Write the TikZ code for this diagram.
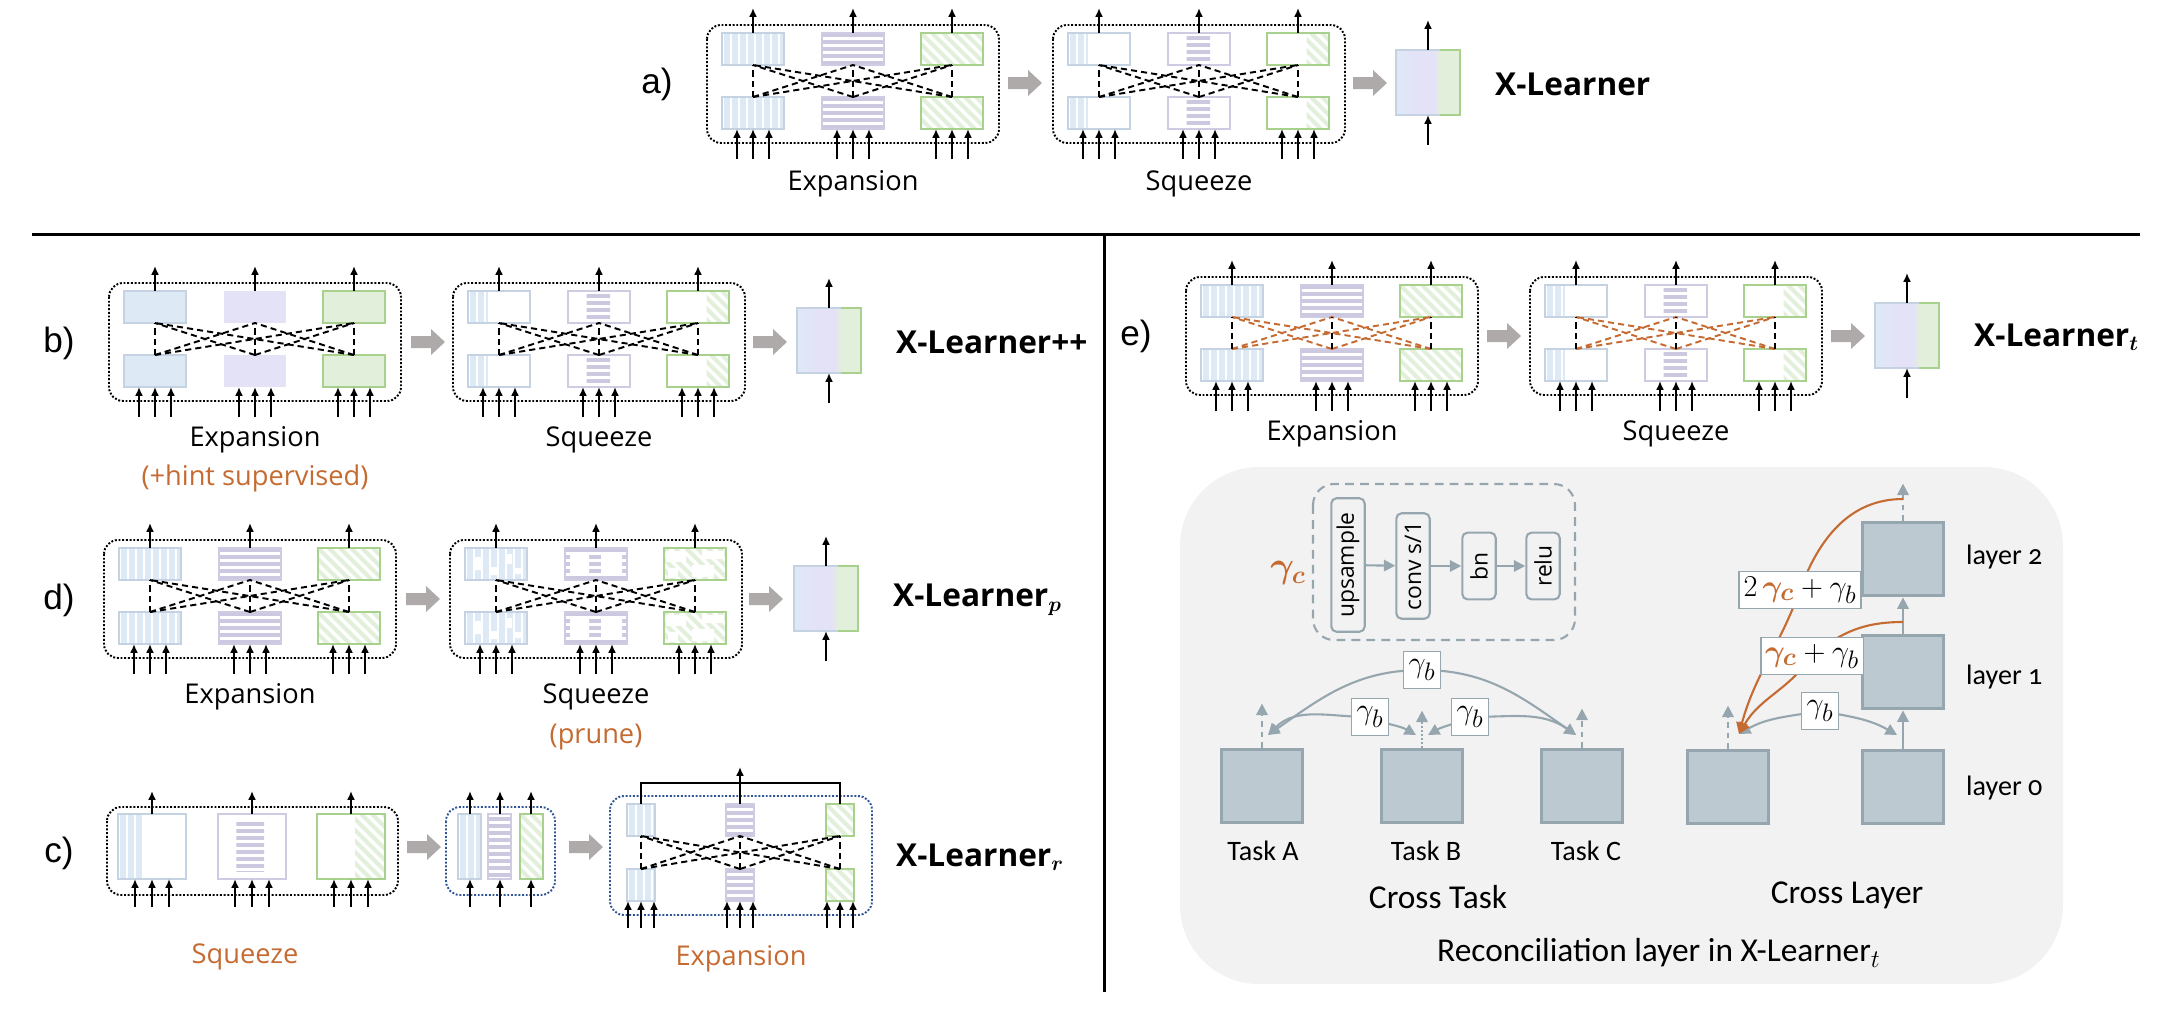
\documentclass[tikz,border=0pt]{standalone}
\usepackage{amsmath,bm}
\usepackage{fontspec}
\newfontfamily\segoe{Open Sans}
\newfontfamily\calib{Carlito}[Numbers=OldStyle]
\newfontfamily\arialf{Liberation Sans}
\usetikzlibrary{arrows.meta}
\definecolor{blueS}{RGB}{221,234,246}
\definecolor{blueE}{RGB}{196,210,226}
\definecolor{blueF}{RGB}{222,233,246}
\definecolor{purpS}{RGB}{203,200,224}
\definecolor{purpE}{RGB}{206,203,226}
\definecolor{purpF}{RGB}{228,226,247}
\definecolor{greenS}{RGB}{226,239,218}
\definecolor{greenE}{RGB}{169,209,142}
\definecolor{greenF}{RGB}{226,239,218}
\definecolor{grayA}{RGB}{174,170,170}
\definecolor{rust}{RGB}{197,107,50}
\definecolor{dotblue}{RGB}{47,85,151}
\definecolor{recbg}{RGB}{242,242,242}
\definecolor{recE}{RGB}{150,166,175}
\definecolor{recF}{RGB}{189,201,209}

% striped boxes: x, y, width, height, ...
\newcommand{\boxBlue}[5]{\begin{scope}[shift={(#1,#2)}]
\fill[white] (0,0) rectangle (#3,#4);
\begin{scope}\clip (0,0) rectangle ({#3*#5},#4);
\foreach \s in {0,8,...,64} \fill[blueS] (\s+1.6,0) rectangle (\s+7.6,#4);
\end{scope}
\draw[blueE,line width=1.1pt] (0,0) rectangle (#3,#4);
\end{scope}}
\newcommand{\boxPurple}[7]{\begin{scope}[shift={(#1,#2)}]
\fill[white] (0,0) rectangle (#3,#4);
\begin{scope}\clip ({#3*#5},#7) rectangle ({#3*#6},#4-#7);
\foreach \t in {0,7,...,70} \fill[purpS] (0,\t+#7) rectangle (#3,\t+#7+4);
\end{scope}
\draw[purpE,line width=1.1pt] (0,0) rectangle (#3,#4);
\end{scope}}
\newcommand{\boxGreen}[5]{\begin{scope}[shift={(#1,#2)}]
\fill[white] (0,0) rectangle (#3,#4);
\begin{scope}\clip ({#3*#5},0) rectangle (#3,#4);
\foreach \s in {-77,-66,...,77} \draw[greenS,line width=2.4pt] (\s,0) -- (\s+#4,#4);
\end{scope}
\draw[greenE,line width=1.1pt] (0,0) rectangle (#3,#4);
\end{scope}}

% kinds of blocks
\newcommand{\kindE}[3]{\ifcase#1\or
\boxBlue{#2}{#3}{62}{32}{1}\or
\boxPurple{#2}{#3}{62}{32}{0}{1}{0}\or
\boxGreen{#2}{#3}{62}{32}{0}\fi}
\newcommand{\kindS}[3]{\ifcase#1\or
\boxBlue{#2}{#3}{62}{32}{0.32}\or
\boxPurple{#2}{#3}{62}{32}{0.3}{0.68}{3}\or
\boxGreen{#2}{#3}{62}{32}{0.64}\fi}
\newcommand{\kindB}[3]{\ifcase#1\or
\filldraw[fill=blueF,draw=blueE,line width=1.1pt] (#2,#3) rectangle ++(62,32);\or
\fill[purpF] (#2,#3) rectangle ++(62,32);\or
\filldraw[fill=greenF,draw=greenE,line width=1.1pt] (#2,#3) rectangle ++(62,32);\fi}
\newcommand{\kindP}[3]{\ifcase#1\or
\boxBlue{#2}{#3}{62}{32}{1}\fill[white,shift={(#2,#3)}] (10,9) rectangle (17,22) (40,6) rectangle (47,16) (26,19) rectangle (33,27) (50,20) rectangle (56,26);\draw[blueE,line width=1.1pt,shift={(#2,#3)}] (0,0) rectangle (62,32);\or
\boxPurple{#2}{#3}{62}{32}{0}{1}{0}\fill[white,shift={(#2,#3)}] (5,6) rectangle (24,26) (36,6) rectangle (57,26);\draw[purpE,line width=1.1pt,shift={(#2,#3)}] (0,0) rectangle (62,32);\or
\boxGreen{#2}{#3}{62}{32}{0}\fill[white,shift={(#2,#3)}] (2,3) rectangle (22,14) (28,17) rectangle (50,29) (38,3) rectangle (60,11) (4,20) rectangle (14,30);\draw[greenE,line width=1.1pt,shift={(#2,#3)}] (0,0) rectangle (62,32);\fi}

% dashed links between three columns
\newcommand{\xlinks}[6]{\foreach \i in {#1,#2,#3} {\coordinate (t\i) at (\i,#4); \coordinate (b\i) at (\i,#5);}
\foreach \i in {#1,#2,#3} {\foreach \j in {#1,#2,#3} {\ifnum\i=\j\relax\else\draw[xlink,#6] (b\i) -- (t\j);\fi}}
\foreach \i in {#1,#2,#3} \draw[xlink] (b\i) -- (t\i);}

\newcommand{\xblock}[4]{\begin{scope}[shift={(#1,#2)}]
\draw[xframe] (0,0) rectangle (292,118);
\foreach \c/\cx in {1/46,2/146,3/245} {#3{\c}{\cx-31}{8} #3{\c}{\cx-31}{72}}
\xlinks{46}{146}{245}{40}{72}{#4}
\foreach \cx in {46,146,245} {\draw[arr] (\cx,8) -- (\cx,-17);
\foreach \d in {-16,0,16} \draw[arr] (\cx+\d,134) -- (\cx+\d,104);}
\end{scope}}

\newcommand{\fatarrow}[2]{\fill[grayA] (#1,#2-6) -- ++(20,0) -- ++(0,-7) -- ++(14,13) -- ++(-14,13) -- ++(0,-7) -- ++(-20,0) -- cycle;}

\newcommand{\xresult}[3]{\shade[left color=blueF,right color=purpF] (#1,#2) rectangle ++(20,65);
\fill[purpF] (#1+20,#2) rectangle ++(18,65);
\shade[left color=purpF,right color=greenF] (#1+38,#2) rectangle ++(6,65);
\fill[greenF] (#1+44,#2) rectangle ++(20,65);
\draw[line width=1.1pt,blueE] (#1+44,#2) -- (#1,#2) -- (#1,#2+65) -- (#1+44,#2+65);
\draw[line width=1.1pt,greenE] (#1+44,#2) -- (#1+64,#2) -- (#1+64,#2+65) -- (#1+44,#2+65);
\draw[arr] (#1+32,#2) -- (#1+32,#2-30);
\draw[arr] (#1+32,#2+95) -- (#1+32,#2+65);
\node[xl] at (#1+93,#2+34) {#3};}

\begin{document}
\begin{tikzpicture}[x=0.02cm,y=-0.02cm,
  arr/.style={line width=1.1pt,-{Latex[length=5pt,width=4.5pt]}},
  xframe/.style={densely dotted,line width=1.1pt,rounded corners=8pt},
  xlink/.style={line width=1.1pt,dash pattern=on 3.5pt off 2.3pt},
  lbl/.style={font=\segoe\fontsize{15.5}{17}\selectfont},
  olbl/.style={lbl,text=rust},
  xl/.style={anchor=west,font=\segoe\bfseries\fontsize{18}{20}\selectfont},
  tagl/.style={font=\arialf\fontsize{20}{22}\selectfont},
  rbox/.style={draw=recE,fill=recF,line width=1.7pt,minimum width=46pt,minimum height=42pt,inner sep=0pt},
  proc/.style={draw=recE,line width=1.2pt,rounded corners=3pt,rotate=90,minimum height=19pt,inner sep=2pt,font=\segoe\fontsize{13}{14}\selectfont},
  gbox/.style={draw=recE,fill=white,line width=1pt,inner sep=2.5pt,minimum width=21pt,minimum height=21pt,font=\fontsize{19}{21}\selectfont},
  rarr/.style={draw=recE,line width=1.2pt,-{Triangle[length=6.5pt,width=6.5pt]}},
  oarr/.style={draw=rust,line width=1.2pt,-{Triangle[length=6.5pt,width=6.5pt]}},
  rlbl/.style={font=\calib\fontsize{16}{18}\selectfont}]
\useasboundingbox (0,0) rectangle (2168,1012);

% a)
\node[tagl] (ta) at (657,84) {a)};
\xblock{707}{25}{\kindE}{black}
\fatarrow{1008}{83}
\xblock{1053}{25}{\kindS}{black}
\fatarrow{1353}{83}
\xresult{1396}{50}{X-Learner}
\node[lbl] at (853,184) {Expansion};
\node[lbl] at (1199,184) {Squeeze};

\draw[line width=1.7pt] (32,234) -- (2140,234);
\draw[line width=1.7pt] (1104,234) -- (1104,992);

% b)
\node[tagl] (tb) at (59,343) {b)};
\xblock{109}{283}{\kindB}{black}
\fatarrow{411}{342}
\xblock{453}{283}{\kindS}{black}
\fatarrow{753}{342}
\xresult{797}{308}{X-Learner++}
\node[lbl] at (255,440) {Expansion};
\node[olbl] at (255,478) {(+hint supervised)};
\node[lbl] at (599,440) {Squeeze};

% d)
\node[tagl] (td) at (59,600) {d)};
\xblock{104}{540}{\kindE}{black}
\fatarrow{406}{599}
\xblock{450}{540}{\kindP}{black}
\fatarrow{749}{599}
\xresult{794}{566}{X-Learner$_{\bm{p}}$}
\node[lbl] at (250,697) {Expansion};
\node[lbl] at (596,697) {Squeeze};
\node[olbl] at (596,737) {(prune)};

% c)
\node[tagl] (tc) at (59,853) {c)};
\draw[xframe] (107,807) rectangle (398,895);
\boxBlue{118}{814}{68}{65}{0.37}
\boxPurple{218}{814}{68}{65}{0.27}{0.68}{8}
\boxGreen{317}{814}{68}{65}{0.56}
\foreach \cx in {152,252,351} {\draw[arr] (\cx,814) -- (\cx,791);
  \foreach \d in {-17,0,17} \draw[arr] (\cx+\d,907) -- (\cx+\d,879);}
\fatarrow{407}{847}
\draw[xframe,dotblue] (446,807) rectangle (555,895);
\boxBlue{458}{814}{23}{65}{1}
\boxPurple{488}{814}{23}{65}{0}{1}{3}
\boxGreen{520}{814}{23}{65}{0}
\foreach \cx in {470,500,531} {\draw[arr] (\cx,814) -- (\cx,791); \draw[arr] (\cx,907) -- (\cx,879);}
\fatarrow{569}{847}
\draw[xframe,dotblue] (610,796) rectangle (872,915);
\foreach \y in {804,869} {\boxBlue{627}{\y}{28}{32}{1}
  \boxPurple{726}{\y}{28}{32}{0}{1}{0}
  \boxGreen{826}{\y}{28}{32}{0}}
\xlinks{641}{740}{840}{836}{869}{black}
\draw[line width=1.1pt] (641,804) -- (641,783) -- (840,783) -- (840,804);
\draw[arr] (740,804) -- (740,767);
\foreach \cx in {641,740,840} \foreach \d in {-13,0,13} \draw[arr] (\cx+\d,928) -- (\cx+\d,901);
\node[xl] at (890,857) {X-Learner$_{\bm{r}}$};
\node[olbl] at (245,957) {Squeeze};
\node[olbl] at (741,959) {Expansion};

% e)
\node[tagl] (te) at (1136,336) {e)};
\xblock{1186}{277}{\kindE}{rust}
\fatarrow{1487}{336}
\xblock{1530}{277}{\kindS}{rust}
\fatarrow{1831}{336}
\xresult{1875}{303}{X-Learner$_{\bm{t}}$}
\node[lbl] at (1332,434) {Expansion};
\node[lbl] at (1676,434) {Squeeze};

% reconciliation layer
\fill[recbg,rounded corners=45pt] (1180,467) rectangle (2063,984);
\draw[recE,line width=1.2pt,dash pattern=on 5pt off 3.5pt,rounded corners=12pt] (1313,484) rectangle (1575,640);
\node[font=\fontsize{21}{23}\selectfont] (gc) at (1288,573) {$\textcolor{rust}{\bm{\gamma}_{\bm{c}}}$};
\node[proc,minimum width=76pt] (ups) at (1348,565) {upsample};
\node[proc,minimum width=60pt] (conv) at (1413,566) {conv s/1};
\node[proc,minimum width=38pt] (bn) at (1479,566) {bn};
\node[proc,minimum width=38pt] (relu) at (1543,566) {relu};
\draw[rarr] (ups) -- (conv);
\draw[rarr] (conv) -- (bn);
\draw[rarr] (bn) -- (relu);

\node[rbox] (tA) at (1262,786) {};
\node[rbox] (tB) at (1422,786) {};
\node[rbox] (tC) at (1582,786) {};
\node[rbox] (cl) at (1728,787) {};
\node[rbox] (l0) at (1903,787) {};
\node[rbox] (l1) at (1903,672) {};
\node[rbox] (l2) at (1903,559) {};
\draw[rarr,dashed] (tA.north) -- ++(0,-44);
\draw[rarr,densely dotted] (tB.north) -- ++(0,-37);
\draw[rarr,dashed] (tC.north) -- ++(0,-39);
\draw[rarr,dashed] (cl.north) -- ++(0,-43);
\draw[rarr] (l0) -- (l1);
\draw[rarr] (l1) -- (l2);
\draw[rarr,dashed] (l2.north) -- ++(0,-37);

\coordinate (pA) at (1268,735);
\coordinate (pB1) at (1416,735);
\coordinate (pB2) at (1428,735);
\coordinate (pC) at (1576,735);
\coordinate (pL) at (1739,734);
\coordinate (p0) at (1897,735);
\coordinate (cT) at (1422,670);
\coordinate (cLL) at (1370,717);
\coordinate (cRR) at (1470,717);
\coordinate (cX) at (1820,711);
\coordinate (c1) at (1812,656);
\coordinate (c2) at (1800,590);
\coordinate (o1) at (1903,622);
\coordinate (o2) at (1903,499);
\draw[rarr] (cT) to[out=180,in=35] (pA);
\draw[rarr] (cT) to[out=0,in=145] (pC);
\draw[rarr] (cLL) to[out=180,in=45] (pA);
\draw[rarr] (cLL) to[out=-25,in=150] (pB1);
\draw[rarr] (cRR) to[out=205,in=30] (pB2);
\draw[rarr] (cRR) to[out=0,in=145] (pC);
\draw[rarr] (cX) to[out=190,in=30] (pL);
\draw[rarr] (cX) to[out=-10,in=150] (p0);
\draw[rust,line width=1.2pt] (o2) to[out=180,in=70] (c2);
\draw[oarr] (c2) to[out=250,in=75] (pL);
\draw[rust,line width=1.2pt] (o1) to[out=180,in=40] (c1);
\draw[oarr] (c1) to[out=235,in=60] (pL);
\node[gbox] (gT) at (cT) {$\gamma_b$};
\node[gbox] (gL) at (cLL) {$\gamma_b$};
\node[gbox] (gR) at (cRR) {$\gamma_b$};
\node[gbox] (gX) at (cX) {$\gamma_b$};
\node[gbox] (g1) at (c1) {$\textcolor{rust}{\bm{\gamma}_{\bm{c}}}+\gamma_b$};
\node[gbox] (g2) at (c2) {$2\,\textcolor{rust}{\bm{\gamma}_{\bm{c}}}+\gamma_b$};

\node[rlbl] at (1263,851) {Task A};
\node[rlbl] at (1426,851) {Task B};
\node[rlbl] at (1586,851) {Task C};
\node[rlbl,anchor=west] at (1960,557) {layer 2};
\node[rlbl,anchor=west] at (1960,677) {layer 1};
\node[rlbl,anchor=west] at (1960,788) {layer 0};
\node[rlbl,font=\calib\fontsize{19}{21}\selectfont] at (1438,897) {Cross Task};
\node[rlbl,font=\calib\fontsize{19}{21}\selectfont] at (1847,895) {Cross Layer};
\node[rlbl,font=\calib\fontsize{19}{21}\selectfont] at (1659,953) {Reconciliation layer in X-Learner$_t$};
\end{tikzpicture}
\end{document}
